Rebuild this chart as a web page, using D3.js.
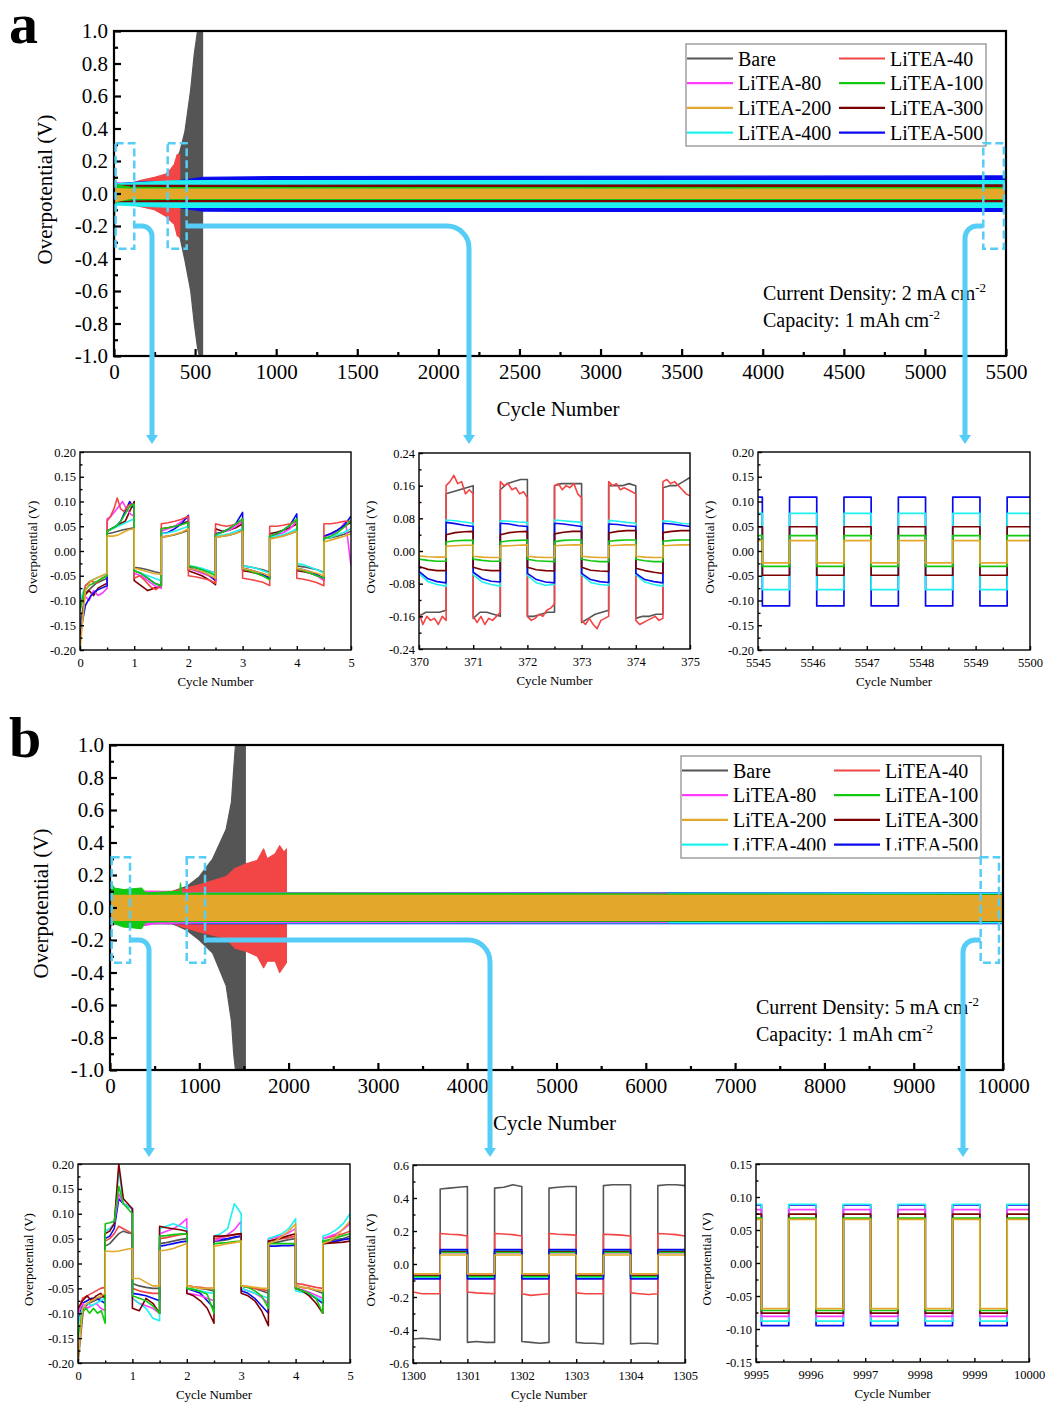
<!DOCTYPE html>
<html>
<head>
<meta charset="utf-8">
<script src="https://cdn.jsdelivr.net/npm/d3@7"></script>
<style>
body { margin: 0; background: #fff; }
text { font-family: "Liberation Serif", "Times New Roman", serif; fill: #000; }
</style>
</head>
<body>
<div id="chart"></div>
<script>
// ---------------- data ----------------
const names = ["Bare", "LiTEA-40", "LiTEA-80", "LiTEA-100", "LiTEA-200", "LiTEA-300", "LiTEA-400", "LiTEA-500"];
const colors = ["#555555", "#f24545", "#ff3cff", "#12c812", "#e3a82b", "#7d0000", "#1ff0f0", "#0a0aee"];

// main panels: envelope of the dense trace, [cycle, upper V, lower V]
const envA_bare = [[0,0.05,-0.05],[250,0.07,-0.07],[330,0.1,-0.1],[372,0.17,-0.16],[407,0.26,-0.27],[437,0.38,-0.41],[473,0.64,-0.6],[495,0.86,-0.8],[515,1.0,-0.95],[526,1.0,-1.0],[546,1.0,-1.0]];
const envA_40 = [[0,0.05,-0.05],[100,0.06,-0.06],[160,0.08,-0.08],[250,0.1,-0.1],[320,0.12,-0.14],[350,0.15,-0.17],[372,0.18,-0.19],[390,0.24,-0.26],[405,0.24,-0.27]];
const envA_80 = [[0,0.07,-0.07],[60,0.06,-0.06],[150,0.05,-0.05],[200,0.05,-0.05]];
const envA_100 = [[0,0.07,-0.06],[30,0.05,-0.045],[100,0.04,-0.04],[300,0.036,-0.036],[5500,0.036,-0.036]];
const envA_200 = [[0,0.03,-0.62],[3,0.03,-0.3],[6,0.03,-0.05],[100,0.027,-0.03],[5500,0.027,-0.03]];
const envA_300 = [[0,0.05,-0.05],[2000,0.052,-0.05],[5500,0.053,-0.05]];
const envA_400 = [[0,0.06,-0.8],[3,0.06,-0.3],[6,0.06,-0.07],[200,0.07,-0.08],[372,0.078,-0.085],[600,0.08,-0.085],[5500,0.08,-0.085]];
const envA_500 = [[0,0.06,-0.06],[150,0.07,-0.075],[372,0.075,-0.08],[450,0.085,-0.095],[550,0.1,-0.108],[1000,0.104,-0.11],[5500,0.108,-0.11]];

const envB_bare = [[0,0.09,-0.09],[700,0.1,-0.1],[860,0.13,-0.14],[1000,0.19,-0.2],[1150,0.3,-0.28],[1300,0.48,-0.48],[1360,0.65,-0.7],[1385,0.85,-0.9],[1405,1.0,-1.0],[1515,1.0,-1.0]];
const envB_40 = [[0,0.17,-0.1],[20,0.1,-0.1],[700,0.1,-0.1],[1000,0.14,-0.15],[1300,0.19,-0.19],[1400,0.24,-0.25],[1530,0.27,-0.27],[1650,0.29,-0.3],[1720,0.36,-0.37],[1760,0.3,-0.33],[1850,0.33,-0.33],[1900,0.38,-0.4],[1950,0.34,-0.36],[1975,0.36,-0.34]];
const envB_80 = [[0,0.1,-0.47],[3,0.1,-0.2],[8,0.1,-0.1],[400,0.1,-0.11],[500,0.1,-0.1],[1000,0.09,-0.092],[6250,0.087,-0.09]];
const envB_100 = [[0,0.16,-0.1],[50,0.12,-0.1],[150,0.11,-0.12],[350,0.12,-0.13],[400,0.09,-0.09],[780,0.1,-0.085],[790,0.15,-0.09],[800,0.09,-0.085],[10000,0.078,-0.083]];
const envB_200 = [[0,0.1,-0.42],[3,0.08,-0.2],[8,0.075,-0.08],[10000,0.074,-0.08]];
const envB_300 = [[0,0.1,-0.1],[200,0.082,-0.086],[10000,0.08,-0.085]];
const envB_400 = [[0,0.1,-0.1],[500,0.09,-0.095],[10000,0.088,-0.095]];
const envB_500 = [[0,0.1,-0.1],[400,0.092,-0.1],[10000,0.09,-0.1]];

const envA = [envA_bare, envA_40, envA_80, envA_100, envA_200, envA_300, envA_400, envA_500];
const envB = [envB_bare, envB_40, envB_80, envB_100, envB_200, envB_300, envB_400, envB_500];

const aXTicks = [0,500,1000,1500,2000,2500,3000,3500,4000,4500,5000,5500];
const aXLabels = ["0","500","1000","1500","2000","2500","3000","3500","4000","4500","5000","5500"];
const bXTicks = [0,1000,2000,3000,4000,5000,6000,7000,8000,9000,10000];
const bXLabels = ["0","1000","2000","3000","4000","5000","6000","7000","8000","9000","10000"];
const mainYTicks = [-1,-0.8,-0.6,-0.4,-0.2,0,0.2,0.4,0.6,0.8,1];
const mainYLabels = ["-1.0","-0.8","-0.6","-0.4","-0.2","0.0","0.2","0.4","0.6","0.8","1.0"];

// zoomed windows marked on the main plots: [first cycle, last cycle]
const zoomA = [[10,125],[331,448],[5360,5487]];
const zoomB = [[19,224],[859,1064],[9750,9955]];
const zoomV = [-0.34, 0.31];

// insets: one list of samples per half cycle (each spread evenly over 0.5 cycle)
// a1: cycles 0-5, first half cycle is stripping (negative)
const a1_bare = [[-0.15,-0.085,-0.075,-0.065,-0.06,-0.055],[0.035,0.037,0.04,0.043,0.045,0.047],[-0.033,-0.035,-0.038,-0.042,-0.045],[0.028,0.03,0.033,0.037,0.042],[-0.032,-0.034,-0.037,-0.04,-0.045],[0.028,0.03,0.032,0.036,0.042],[-0.03,-0.032,-0.035,-0.038,-0.043],[0.027,0.029,0.031,0.035,0.04],[-0.03,-0.032,-0.035,-0.038,-0.043],[0.025,0.027,0.03,0.034,0.04]];
const a1_40 = [[-0.12,-0.07,-0.06,-0.065,-0.055,-0.05],[0.06,0.07,0.085,0.107,0.085,0.08,0.09,0.095,0.09],[-0.055,-0.05,-0.06,-0.072,-0.078,-0.07],[0.055,0.057,0.06,0.064,0.07],[-0.05,-0.052,-0.055,-0.058,-0.065],[0.055,0.052,0.05,0.052,0.055,0.065],[-0.055,-0.057,-0.06,-0.063,-0.07],[0.05,0.05,0.052,0.055,0.06],[-0.055,-0.057,-0.06,-0.064,-0.07],[0.055,0.055,0.057,0.06,0.06]];
const a1_80 = [[-0.1,-0.09,-0.1,-0.08,-0.09,-0.085,-0.075],[0.065,0.07,0.08,0.09,0.1,0.085,0.075,0.07],[-0.045,-0.05,-0.06,-0.07,-0.075],[0.04,0.045,0.05,0.06,0.07],[-0.035,-0.04,-0.045,-0.05,-0.06],[0.035,0.038,0.042,0.05,0.06],[-0.035,-0.038,-0.042,-0.048,-0.055],[0.03,0.033,0.037,0.045,0.06],[-0.035,-0.04,-0.045,-0.05,-0.06],[0.03,0.033,0.037,0.045,0.06,-0.03]];
const a1_100 = [[-0.12,-0.08,-0.07,-0.065,-0.06,-0.055,-0.05],[0.04,0.045,0.05,0.06,0.075,0.09,0.095],[-0.04,-0.045,-0.055,-0.065,-0.07],[0.045,0.047,0.05,0.053,0.058],[-0.03,-0.033,-0.038,-0.043,-0.05],[0.033,0.038,0.045,0.055,0.065],[-0.035,-0.04,-0.045,-0.05,-0.058],[0.03,0.035,0.042,0.052,0.065],[-0.035,-0.04,-0.045,-0.05,-0.055],[0.025,0.03,0.037,0.048,0.062]];
const a1_200 = [[-0.2,-0.08,-0.06,-0.055,-0.05,-0.045],[0.03,0.03,0.032,0.038,0.043,0.045],[-0.035,-0.038,-0.042,-0.046,-0.047],[0.028,0.03,0.034,0.038,0.045],[-0.035,-0.038,-0.042,-0.048,-0.055],[0.027,0.03,0.032,0.036,0.04],[-0.035,-0.038,-0.042,-0.045,-0.05],[0.024,0.027,0.03,0.035,0.04],[-0.035,-0.038,-0.042,-0.045,-0.05],[0.018,0.022,0.026,0.03,0.035]];
const a1_300 = [[-0.11,-0.09,-0.08,-0.09,-0.075,-0.07,-0.065],[0.04,0.045,0.05,0.055,0.06,0.08,0.1],[-0.06,-0.07,-0.08,-0.075,-0.07],[0.045,0.047,0.05,0.055,0.06],[-0.04,-0.045,-0.05,-0.058,-0.068],[0.045,0.04,0.042,0.047,0.055],[-0.04,-0.042,-0.045,-0.05,-0.055],[0.035,0.038,0.042,0.047,0.055],[-0.04,-0.042,-0.045,-0.05,-0.055],[0.03,0.035,0.042,0.05,0.058]];
const a1_400 = [[-0.1,-0.07,-0.06,-0.055,-0.05,-0.048],[0.04,0.045,0.05,0.055,0.06,0.065],[-0.04,-0.045,-0.05,-0.055,-0.06],[0.035,0.037,0.04,0.045,0.05],[-0.03,-0.032,-0.035,-0.04,-0.045],[0.03,0.032,0.035,0.04,0.045],[-0.03,-0.032,-0.035,-0.04,-0.045],[0.028,0.03,0.033,0.038,0.045],[-0.025,-0.028,-0.033,-0.038,-0.045],[0.025,0.028,0.033,0.038,0.045]];
const a1_500 = [[-0.17,-0.11,-0.09,-0.08,-0.075,-0.07],[0.04,0.045,0.05,0.06,0.08,0.1,0.085],[-0.04,-0.045,-0.055,-0.065,-0.07],[0.035,0.038,0.045,0.055,0.072],[-0.035,-0.038,-0.042,-0.048,-0.06],[0.035,0.038,0.045,0.055,0.078],[-0.035,-0.038,-0.042,-0.048,-0.055],[0.03,0.035,0.042,0.052,0.075],[-0.035,-0.038,-0.042,-0.048,-0.055],[0.03,0.035,0.042,0.052,0.07]];

// a2: cycles 369.5-375
const a2_bare = [[0.15,0.16],[-0.16,-0.15,-0.15,-0.15,-0.145],[0.14,0.145,0.15,0.155,0.16],[-0.165,-0.15,-0.15,-0.155,-0.16],[0.15,0.165,0.17,0.175,0.175],[-0.16,-0.16,-0.155,-0.15,-0.15],[0.16,0.165,0.165,0.165,0.165],[-0.175,-0.165,-0.155,-0.15,-0.145],[0.16,0.16,0.16,0.165,0.16],[-0.165,-0.16,-0.16,-0.155,-0.155],[0.155,0.16,0.16,0.17,0.18]];
const a2_40 = [[0.14,0.14],[-0.15,-0.18,-0.16,-0.17,-0.165,-0.18,-0.16,-0.17],[0.16,0.17,0.185,0.165,0.17,0.14,0.15,0.14],[-0.16,-0.175,-0.16,-0.18,-0.165,-0.17,-0.16,-0.15],[0.17,0.16,0.165,0.15,0.155,0.14,0.145,0.13],[-0.16,-0.17,-0.165,-0.155,-0.16,-0.145,-0.14,-0.13],[0.16,0.165,0.15,0.16,0.155,0.165,0.14,0.13],[-0.17,-0.18,-0.165,-0.18,-0.19,-0.17,-0.165,-0.16],[0.17,0.16,0.165,0.15,0.155,0.15,0.145,0.14],[-0.17,-0.18,-0.175,-0.17,-0.165,-0.16,-0.17,-0.165],[0.17,0.175,0.165,0.17,0.16,0.15,0.14,0.135]];
const a2_100 = [[0.025,0.025],[-0.02,-0.023,-0.025,-0.025],[0.022,0.025,0.026,0.026],[-0.02,-0.023,-0.025,-0.025],[0.022,0.025,0.026,0.027],[-0.02,-0.024,-0.025,-0.026],[0.023,0.026,0.027,0.027],[-0.02,-0.024,-0.026,-0.026],[0.024,0.026,0.027,0.027],[-0.02,-0.024,-0.026,-0.026],[0.024,0.026,0.027,0.027]];
const a2_200 = [[0.014,0.014],[-0.012,-0.014,-0.015,-0.015],[0.012,0.013,0.014,0.014],[-0.013,-0.015,-0.016,-0.016],[0.012,0.013,0.014,0.015],[-0.013,-0.015,-0.016,-0.016],[0.013,0.014,0.015,0.015],[-0.013,-0.015,-0.016,-0.016],[0.013,0.014,0.015,0.015],[-0.013,-0.015,-0.016,-0.016],[0.013,0.014,0.015,0.015]];
const a2_300 = [[0.045,0.045],[-0.038,-0.045,-0.048,-0.048],[0.04,0.045,0.047,0.048],[-0.04,-0.046,-0.048,-0.048],[0.04,0.045,0.047,0.048],[-0.04,-0.046,-0.048,-0.049],[0.042,0.046,0.048,0.048],[-0.04,-0.047,-0.049,-0.05],[0.044,0.048,0.05,0.05],[-0.042,-0.048,-0.052,-0.055],[0.045,0.048,0.05,0.05]];
const a2_400 = [[0.065,0.065],[-0.055,-0.075,-0.082,-0.086],[0.076,0.074,0.071,0.068],[-0.058,-0.076,-0.082,-0.086],[0.074,0.073,0.071,0.07],[-0.06,-0.078,-0.084,-0.082],[0.076,0.074,0.072,0.07],[-0.058,-0.077,-0.082,-0.084],[0.075,0.073,0.07,0.068],[-0.058,-0.076,-0.082,-0.086],[0.074,0.072,0.068,0.066]];
const a2_500 = [[0.062,0.06],[-0.05,-0.068,-0.075,-0.078],[0.07,0.067,0.063,0.06],[-0.052,-0.068,-0.074,-0.076],[0.068,0.066,0.062,0.06],[-0.055,-0.07,-0.076,-0.078],[0.068,0.066,0.063,0.06],[-0.055,-0.07,-0.075,-0.077],[0.066,0.065,0.062,0.06],[-0.055,-0.07,-0.075,-0.078],[0.068,0.066,0.063,0.06]];

// a3 and b3: steady plateaus, [plating V, stripping V]
const a3_100 = [0.031,-0.031];
const a3_200 = [0.021,-0.024];
const a3_300 = [0.049,-0.049];
const a3_400 = [0.076,-0.078];
const a3_500 = [0.109,-0.111];

// b1: cycles 0-5
const b1_bare = [[-0.2,-0.09,-0.08,-0.075,-0.07,-0.065],[0.035,0.04,0.05,0.06,0.065,0.062,0.06],[-0.04,-0.045,-0.048,-0.05,-0.05],[0.04,0.042,0.045,0.048,0.05],[-0.045,-0.047,-0.05,-0.052,-0.055],[0.045,0.046,0.048,0.052,0.055],[-0.045,-0.048,-0.05,-0.055,-0.06],[0.04,0.042,0.045,0.048,0.05],[-0.045,-0.048,-0.05,-0.055,-0.06],[0.045,0.046,0.048,0.05,0.055]];
const b1_40 = [[-0.1,-0.07,-0.065,-0.06,-0.055,-0.05,-0.048],[0.045,0.05,0.06,0.075,0.07,0.065,0.06],[-0.05,-0.055,-0.058,-0.06,-0.06],[0.05,0.052,0.055,0.058,0.06],[-0.045,-0.047,-0.048,-0.05,-0.05],[0.05,0.052,0.055,0.058,0.06],[-0.045,-0.047,-0.05,-0.052,-0.055],[0.045,0.047,0.05,0.052,0.055],[-0.04,-0.042,-0.045,-0.048,-0.05],[0.05,0.053,0.056,0.06,0.065]];
const b1_80 = [[-0.1,-0.08,-0.09,-0.085,-0.08,-0.09,-0.095],[0.065,0.07,0.08,0.14,0.12,0.115,0.11],[-0.07,-0.08,-0.085,-0.09,-0.1],[0.06,0.065,0.07,0.078,0.09],[-0.06,-0.062,-0.065,-0.07,-0.075],[0.045,0.05,0.058,0.068,0.085],[-0.05,-0.055,-0.06,-0.068,-0.08],[0.05,0.052,0.056,0.062,0.07],[-0.05,-0.053,-0.058,-0.064,-0.07],[0.05,0.055,0.06,0.068,0.08]];
const b1_100 = [[-0.15,-0.1,-0.09,-0.1,-0.09,-0.1,-0.095,-0.12],[0.08,0.082,0.085,0.155,0.12,0.11,0.1],[-0.065,-0.07,-0.075,-0.085,-0.1],[0.055,0.056,0.058,0.059,0.06],[-0.05,-0.052,-0.056,-0.062,-0.1],[0.04,0.041,0.042,0.044,0.045],[-0.045,-0.048,-0.055,-0.065,-0.09],[0.04,0.04,0.04,0.04,0.04],[-0.05,-0.055,-0.06,-0.07,-0.1],[0.045,0.048,0.052,0.056,0.06]];
const b1_200 = [[-0.2,-0.09,-0.08,-0.075,-0.07,-0.065,-0.06],[0.025,0.024,0.024,0.025,0.027,0.029,0.03],[-0.03,-0.03,-0.038,-0.045,-0.045],[0.025,0.027,0.03,0.035,0.04],[-0.045,-0.047,-0.05,-0.05,-0.05],[0.035,0.037,0.04,0.042,0.045],[-0.045,-0.046,-0.048,-0.05,-0.05],[0.04,0.045,0.055,0.065,0.08],[-0.045,-0.048,-0.05,-0.053,-0.055],[0.04,0.045,0.055,0.07,0.085]];
const b1_300 = [[-0.09,-0.075,-0.065,-0.075,-0.065,-0.06,-0.07],[0.06,0.065,0.08,0.2,0.13,0.12,0.11],[-0.09,-0.095,-0.07,-0.08,-0.1],[0.075,0.072,0.07,0.068,0.065],[-0.06,-0.065,-0.075,-0.09,-0.12],[0.055,0.055,0.056,0.058,0.06],[-0.06,-0.065,-0.075,-0.095,-0.125],[0.045,0.048,0.052,0.056,0.06],[-0.05,-0.055,-0.065,-0.08,-0.1],[0.04,0.041,0.042,0.043,0.045]];
const b1_400 = [[-0.12,-0.09,-0.08,-0.085,-0.08,-0.075,-0.07],[0.065,0.07,0.08,0.19,0.12,0.115,0.11],[-0.07,-0.08,-0.09,-0.11,-0.115],[0.07,0.075,0.08,0.075,0.07],[-0.05,-0.052,-0.055,-0.058,-0.06],[0.055,0.06,0.07,0.12,0.1],[-0.05,-0.055,-0.06,-0.065,-0.07],[0.05,0.055,0.06,0.07,0.09],[-0.055,-0.058,-0.062,-0.068,-0.075],[0.055,0.06,0.068,0.08,0.1]];
const b1_500 = [[-0.12,-0.08,-0.075,-0.07,-0.07,-0.075,-0.08],[0.05,0.055,0.07,0.13,0.12,0.115,0.11],[-0.06,-0.062,-0.065,-0.07,-0.075],[0.035,0.037,0.04,0.043,0.045],[-0.05,-0.055,-0.06,-0.075,-0.09],[0.045,0.048,0.05,0.053,0.055],[-0.055,-0.06,-0.07,-0.085,-0.1],[0.035,0.035,0.036,0.036,0.037],[-0.05,-0.055,-0.062,-0.07,-0.08],[0.04,0.042,0.045,0.048,0.05]];

// b2: cycles 1299.5-1305
const b2_bare = [[0.45,0.45],[-0.455,-0.45,-0.455,-0.46],[0.455,0.46,0.465,0.47],[-0.475,-0.47,-0.475,-0.475],[0.46,0.465,0.48,0.47],[-0.47,-0.475,-0.48,-0.475],[0.46,0.465,0.47,0.47],[-0.475,-0.48,-0.48,-0.485],[0.475,0.48,0.48,0.48],[-0.485,-0.48,-0.48,-0.485],[0.475,0.48,0.48,0.475]];
const b2_40 = [[0.17,0.165],[-0.17,-0.18,-0.18,-0.18],[0.185,0.18,0.178,0.17],[-0.17,-0.175,-0.178,-0.18],[0.185,0.182,0.178,0.17],[-0.18,-0.19,-0.185,-0.18],[0.185,0.18,0.178,0.175],[-0.175,-0.18,-0.18,-0.18],[0.18,0.178,0.175,0.17],[-0.175,-0.18,-0.185,-0.18],[0.185,0.182,0.178,0.17]];
const b2_80 = [0.068,-0.065];
const b2_100 = [0.07,-0.076];
const b2_200 = [0.055,-0.06];
const b2_300 = [0.075,-0.072];
const b2_400 = [0.082,-0.082];
const b2_500 = [0.087,-0.09];

const b3_80 = [0.081,-0.081];
const b3_100 = [0.068,-0.072];
const b3_200 = [0.066,-0.069];
const b3_300 = [0.074,-0.076];
const b3_400 = [0.089,-0.088];
const b3_500 = [0.088,-0.095];

// ---------------- drawing ----------------
const svg = d3.select("#chart").append("svg")
	.attr("width", 1048)
	.attr("height", 1409);
svg.append("rect").attr("width", 1048).attr("height", 1409).attr("fill", "#fff");

const serif = '"Liberation Serif", "Times New Roman", serif';
const linkColor = "#56cdf7";

// plateaus -> half-cycle sample lists, first half is plating (positive)
function plateaus(levels, count) {
	return d3.range(count).map(k => k % 2 === 0 ? [levels[0], levels[0]] : [levels[1], levels[1]]);
}

function drawFrame(x, y, o) {
	const [x0, x1] = x.range();
	const [yb, yt] = y.range();
	const g = svg.append("g");
	const xMinor = d3.pairs(o.xTicks, (a, b) => (a + b) / 2);
	const yMinor = d3.pairs(o.yTicks, (a, b) => (a + b) / 2);

	g.append("g").attr("transform", `translate(0,${yb})`)
		.call(d3.axisBottom(x).tickValues(xMinor).tickSize(-o.minor).tickFormat(""));
	g.append("g").attr("transform", `translate(0,${yb})`)
		.call(d3.axisBottom(x).tickValues(o.xTicks).tickSize(-o.major).tickPadding(o.xPad)
			.tickFormat((d, i) => o.xLabels[i]));
	g.append("g").attr("transform", `translate(${x0},0)`)
		.call(d3.axisLeft(y).tickValues(yMinor).tickSize(-o.minor).tickFormat(""));
	g.append("g").attr("transform", `translate(${x0},0)`)
		.call(d3.axisLeft(y).tickValues(o.yTicks).tickSize(-o.major).tickPadding(o.yPad)
			.tickFormat((d, i) => o.yLabels[i]));

	g.selectAll(".domain").remove();
	g.selectAll(".tick line").attr("stroke", "#000").attr("stroke-width", o.width);
	g.selectAll("g").attr("font-size", o.font).attr("font-family", serif);

	g.append("rect")
		.attr("x", x0).attr("y", yt)
		.attr("width", x1 - x0).attr("height", yb - yt)
		.attr("fill", "none")
		.attr("stroke", "#000")
		.attr("stroke-width", o.width);
}

function drawMain(p) {
	const x = d3.scaleLinear().domain(p.xDomain).range([p.left, p.right]);
	const y = d3.scaleLinear().domain([-1, 1]).range([p.bottom, p.top]);

	svg.append("clipPath").attr("id", p.id + "clip")
		.append("rect")
		.attr("x", p.left).attr("y", p.top)
		.attr("width", p.right - p.left).attr("height", p.bottom - p.top);

	const g = svg.append("g").attr("clip-path", `url(#${p.id}clip)`);
	const area = d3.area()
		.x(d => x(d[0]))
		.y0(d => y(d[2]))
		.y1(d => y(d[1]));

	p.order.forEach(i => {
		g.append("path")
			.attr("d", area(p.env[i]))
			.attr("fill", colors[i])
			.attr("stroke", colors[i])
			.attr("stroke-width", 1.2)
			.attr("stroke-linejoin", "round");
	});

	drawFrame(x, y, {
		xTicks: p.xTicks, xLabels: p.xLabels, yTicks: mainYTicks, yLabels: mainYLabels,
		major: 7, minor: 4, width: 2.2, font: 21, xPad: 8, yPad: 6
	});

	svg.append("text")
		.attr("x", (p.left + p.right) / 2 - 2)
		.attr("y", p.bottom + 60)
		.attr("text-anchor", "middle")
		.attr("font-size", 21)
		.text("Cycle Number");

	svg.append("text")
		.attr("transform", `translate(${p.left - 62},${(p.top + p.bottom) / 2 - 4}) rotate(-90)`)
		.attr("text-anchor", "middle")
		.attr("font-size", 21)
		.text("Overpotential (V)");

	svg.append("text")
		.attr("x", 9)
		.attr("y", p.top + 12)
		.attr("font-size", 58)
		.attr("font-weight", "bold")
		.text(p.id);

	// test conditions
	const note = svg.append("g").attr("font-size", 20);
	const t1 = note.append("text").attr("x", p.noteX).attr("y", p.noteY);
	t1.append("tspan").text(`Current Density: ${p.current} mA cm`);
	t1.append("tspan").attr("font-size", 13).attr("dy", -8).text("-2");
	const t2 = note.append("text").attr("x", p.noteX).attr("y", p.noteY + 27);
	t2.append("tspan").text("Capacity: 1 mAh cm");
	t2.append("tspan").attr("font-size", 13).attr("dy", -8).text("-2");

	return {x, y};
}

function drawLegend(lx, ly, clipBottom) {
	const w = 300, h = 102;
	svg.append("clipPath").attr("id", "leg" + ly)
		.append("rect").attr("x", lx).attr("y", ly).attr("width", w).attr("height", clipBottom - ly);
	const g = svg.append("g").attr("clip-path", `url(#leg${ly})`).attr("font-size", 20);
	names.forEach((name, i) => {
		const col = i % 2, row = Math.floor(i / 2);
		const cy = ly + 14.5 + row * 24.7;
		const x0 = lx + 1 + col * 152;
		g.append("line")
			.attr("x1", x0).attr("x2", x0 + 46)
			.attr("y1", cy).attr("y2", cy)
			.attr("stroke", colors[i])
			.attr("stroke-width", 2.2);
		g.append("text")
			.attr("x", x0 + 51)
			.attr("y", cy + 7)
			.text(name);
	});
	svg.append("rect")
		.attr("x", lx).attr("y", ly).attr("width", w).attr("height", h)
		.attr("fill", "none")
		.attr("stroke", "#888")
		.attr("stroke-width", 1.2);
}

function drawInset(p) {
	const [bx0, by0, bx1, by1] = p.box;
	const x = d3.scaleLinear().domain(p.xDomain).range([bx0, bx1]);
	const y = d3.scaleLinear().domain(p.yDomain).range([by1, by0]);

	svg.append("clipPath").attr("id", p.id + "clip")
		.append("rect").attr("x", bx0).attr("y", by0).attr("width", bx1 - bx0).attr("height", by1 - by0);
	const g = svg.append("g").attr("clip-path", `url(#${p.id}clip)`);
	const line = d3.line().x(d => x(d[0])).y(d => y(d[1]));

	p.order.forEach(i => {
		const halves = p.series[i];
		if (!halves) return;
		const pts = [];
		halves.forEach((vals, k) => {
			const t0 = p.start + k * 0.5;
			vals.forEach((v, j) => pts.push([t0 + j * 0.5 / (vals.length - 1), v]));
		});
		g.append("path")
			.attr("d", line(pts))
			.attr("fill", "none")
			.attr("stroke", colors[i])
			.attr("stroke-width", p.lw)
			.attr("stroke-linejoin", "round");
	});

	drawFrame(x, y, {
		xTicks: p.xTicks, xLabels: p.xLabels, yTicks: p.yTicks, yLabels: p.yLabels,
		major: 4, minor: 2.5, width: 1.4, font: 12.5, xPad: 8, yPad: 4
	});

	svg.append("text")
		.attr("x", (bx0 + bx1) / 2)
		.attr("y", by1 + 36)
		.attr("text-anchor", "middle")
		.attr("font-size", 13)
		.text("Cycle Number");
	svg.append("text")
		.attr("transform", `translate(${p.titleX},${(by0 + by1) / 2 - 4}) rotate(-90)`)
		.attr("text-anchor", "middle")
		.attr("font-size", 13)
		.text("Overpotential (V)");
}

function drawLinks(sc, wins, links, tipY) {
	wins.forEach((w, k) => {
		const lk = links[k];
		svg.append("rect")
			.attr("x", sc.x(w[0]))
			.attr("y", sc.y(zoomV[1]))
			.attr("width", sc.x(w[1]) - sc.x(w[0]))
			.attr("height", sc.y(zoomV[0]) - sc.y(zoomV[1]))
			.attr("fill", "none")
			.attr("stroke", linkColor)
			.attr("stroke-width", 2.5)
			.attr("stroke-dasharray", "8,4");

		const sy = sc.y(-0.2);
		const sx = lk.left ? sc.x(w[0]) : sc.x(w[1]);
		const path = d3.path();
		path.moveTo(sx, sy);
		path.lineTo(lk.left ? lk.cx + lk.r : lk.cx - lk.r, sy);
		path.arcTo(lk.cx, sy, lk.cx, sy + lk.r, lk.r);
		path.lineTo(lk.cx, tipY - 7);
		svg.append("path")
			.attr("d", path.toString())
			.attr("fill", "none")
			.attr("stroke", linkColor)
			.attr("stroke-width", 5);
		svg.append("path")
			.attr("d", `M${lk.cx - 6},${tipY - 9}L${lk.cx + 6},${tipY - 9}L${lk.cx},${tipY}Z`)
			.attr("fill", linkColor);
	});
}

// ---- panel a ----
const scA = drawMain({
	id: "a", left: 114, right: 1006, top: 31, bottom: 356,
	xDomain: [0, 5500], xTicks: aXTicks, xLabels: aXLabels,
	env: envA, order: [0, 1, 2, 7, 6, 5, 3, 4],
	noteX: 763, noteY: 300, current: 2
});
drawLegend(686, 44, 146);

const inY20 = [-0.2, -0.15, -0.1, -0.05, 0, 0.05, 0.1, 0.15, 0.2];
const inY20Labels = ["-0.20", "-0.15", "-0.10", "-0.05", "0.00", "0.05", "0.10", "0.15", "0.20"];

drawInset({
	id: "a1", box: [80, 452, 351, 650], xDomain: [0, 5], yDomain: [-0.2, 0.2],
	xTicks: [0, 1, 2, 3, 4, 5], xLabels: ["0", "1", "2", "3", "4", "5"],
	yTicks: inY20, yLabels: inY20Labels,
	start: 0, lw: 1.6, titleX: 37,
	series: [a1_bare, a1_40, a1_80, a1_100, a1_200, a1_300, a1_400, a1_500],
	order: [0, 5, 2, 7, 6, 1, 3, 4]
});
drawInset({
	id: "a2", box: [419, 453, 690, 649], xDomain: [370, 375], yDomain: [-0.24, 0.24],
	xTicks: [370, 371, 372, 373, 374, 375], xLabels: ["370", "371", "372", "373", "374", "375"],
	yTicks: [-0.24, -0.16, -0.08, 0, 0.08, 0.16, 0.24],
	yLabels: ["-0.24", "-0.16", "-0.08", "0.00", "0.08", "0.16", "0.24"],
	start: 369.5, lw: 1.6, titleX: 375,
	series: [a2_bare, a2_40, null, a2_100, a2_200, a2_300, a2_400, a2_500],
	order: [0, 1, 6, 7, 5, 3, 4]
});
drawInset({
	id: "a3", box: [758, 452, 1030, 650], xDomain: [5545, 5550], yDomain: [-0.2, 0.2],
	xTicks: [5545, 5546, 5547, 5548, 5549, 5550], xLabels: ["5545", "5546", "5547", "5548", "5549", "5500"],
	yTicks: inY20, yLabels: inY20Labels,
	start: 5544.58, lw: 1.7, titleX: 714,
	series: [null, null, null, plateaus(a3_100, 11), plateaus(a3_200, 11), plateaus(a3_300, 11), plateaus(a3_400, 11), plateaus(a3_500, 11)],
	order: [7, 6, 5, 3, 4]
});

// ---- panel b ----
const scB = drawMain({
	id: "b", left: 110, right: 1003, top: 745, bottom: 1070,
	xDomain: [0, 10000], xTicks: bXTicks, xLabels: bXLabels,
	env: envB, order: [0, 1, 7, 6, 2, 5, 3, 4],
	noteX: 756, noteY: 1014, current: 5
});
drawLegend(681, 756, 850.5);

drawInset({
	id: "b1", box: [78, 1164, 350, 1363], xDomain: [0, 5], yDomain: [-0.2, 0.2],
	xTicks: [0, 1, 2, 3, 4, 5], xLabels: ["0", "1", "2", "3", "4", "5"],
	yTicks: inY20, yLabels: inY20Labels,
	start: 0, lw: 1.6, titleX: 33,
	series: [b1_bare, b1_40, b1_80, b1_100, b1_200, b1_300, b1_400, b1_500],
	order: [0, 1, 7, 2, 6, 5, 3, 4]
});
drawInset({
	id: "b2", box: [413, 1165, 685, 1363], xDomain: [1300, 1305], yDomain: [-0.6, 0.6],
	xTicks: [1300, 1301, 1302, 1303, 1304, 1305], xLabels: ["1300", "1301", "1302", "1303", "1304", "1305"],
	yTicks: [-0.6, -0.4, -0.2, 0, 0.2, 0.4, 0.6], yLabels: ["-0.6", "-0.4", "-0.2", "0.0", "0.2", "0.4", "0.6"],
	start: 1299.5, lw: 1.6, titleX: 375,
	series: [b2_bare, b2_40, plateaus(b2_80, 11), plateaus(b2_100, 11), plateaus(b2_200, 11), plateaus(b2_300, 11), plateaus(b2_400, 11), plateaus(b2_500, 11)],
	order: [0, 1, 2, 6, 5, 3, 7, 4]
});
drawInset({
	id: "b3", box: [756, 1164, 1029, 1362], xDomain: [9995, 10000], yDomain: [-0.15, 0.15],
	xTicks: [9995, 9996, 9997, 9998, 9999, 10000], xLabels: ["9995", "9996", "9997", "9998", "9999", "10000"],
	yTicks: [-0.15, -0.1, -0.05, 0, 0.05, 0.1, 0.15], yLabels: ["-0.15", "-0.10", "-0.05", "0.00", "0.05", "0.10", "0.15"],
	start: 9994.6, lw: 1.7, titleX: 711,
	series: [null, null, plateaus(b3_80, 11), plateaus(b3_100, 11), plateaus(b3_200, 11), plateaus(b3_300, 11), plateaus(b3_400, 11), plateaus(b3_500, 11)],
	order: [7, 6, 2, 5, 3, 4]
});

// zoom markers and connectors drawn last so they sit on top
drawLinks(scA, zoomA, [{cx: 152, r: 10}, {cx: 469, r: 22}, {cx: 965, r: 12, left: true}], 444);
drawLinks(scB, zoomB, [{cx: 149, r: 10}, {cx: 490, r: 22}, {cx: 963, r: 12, left: true}], 1157);
</script>
</body>
</html>
